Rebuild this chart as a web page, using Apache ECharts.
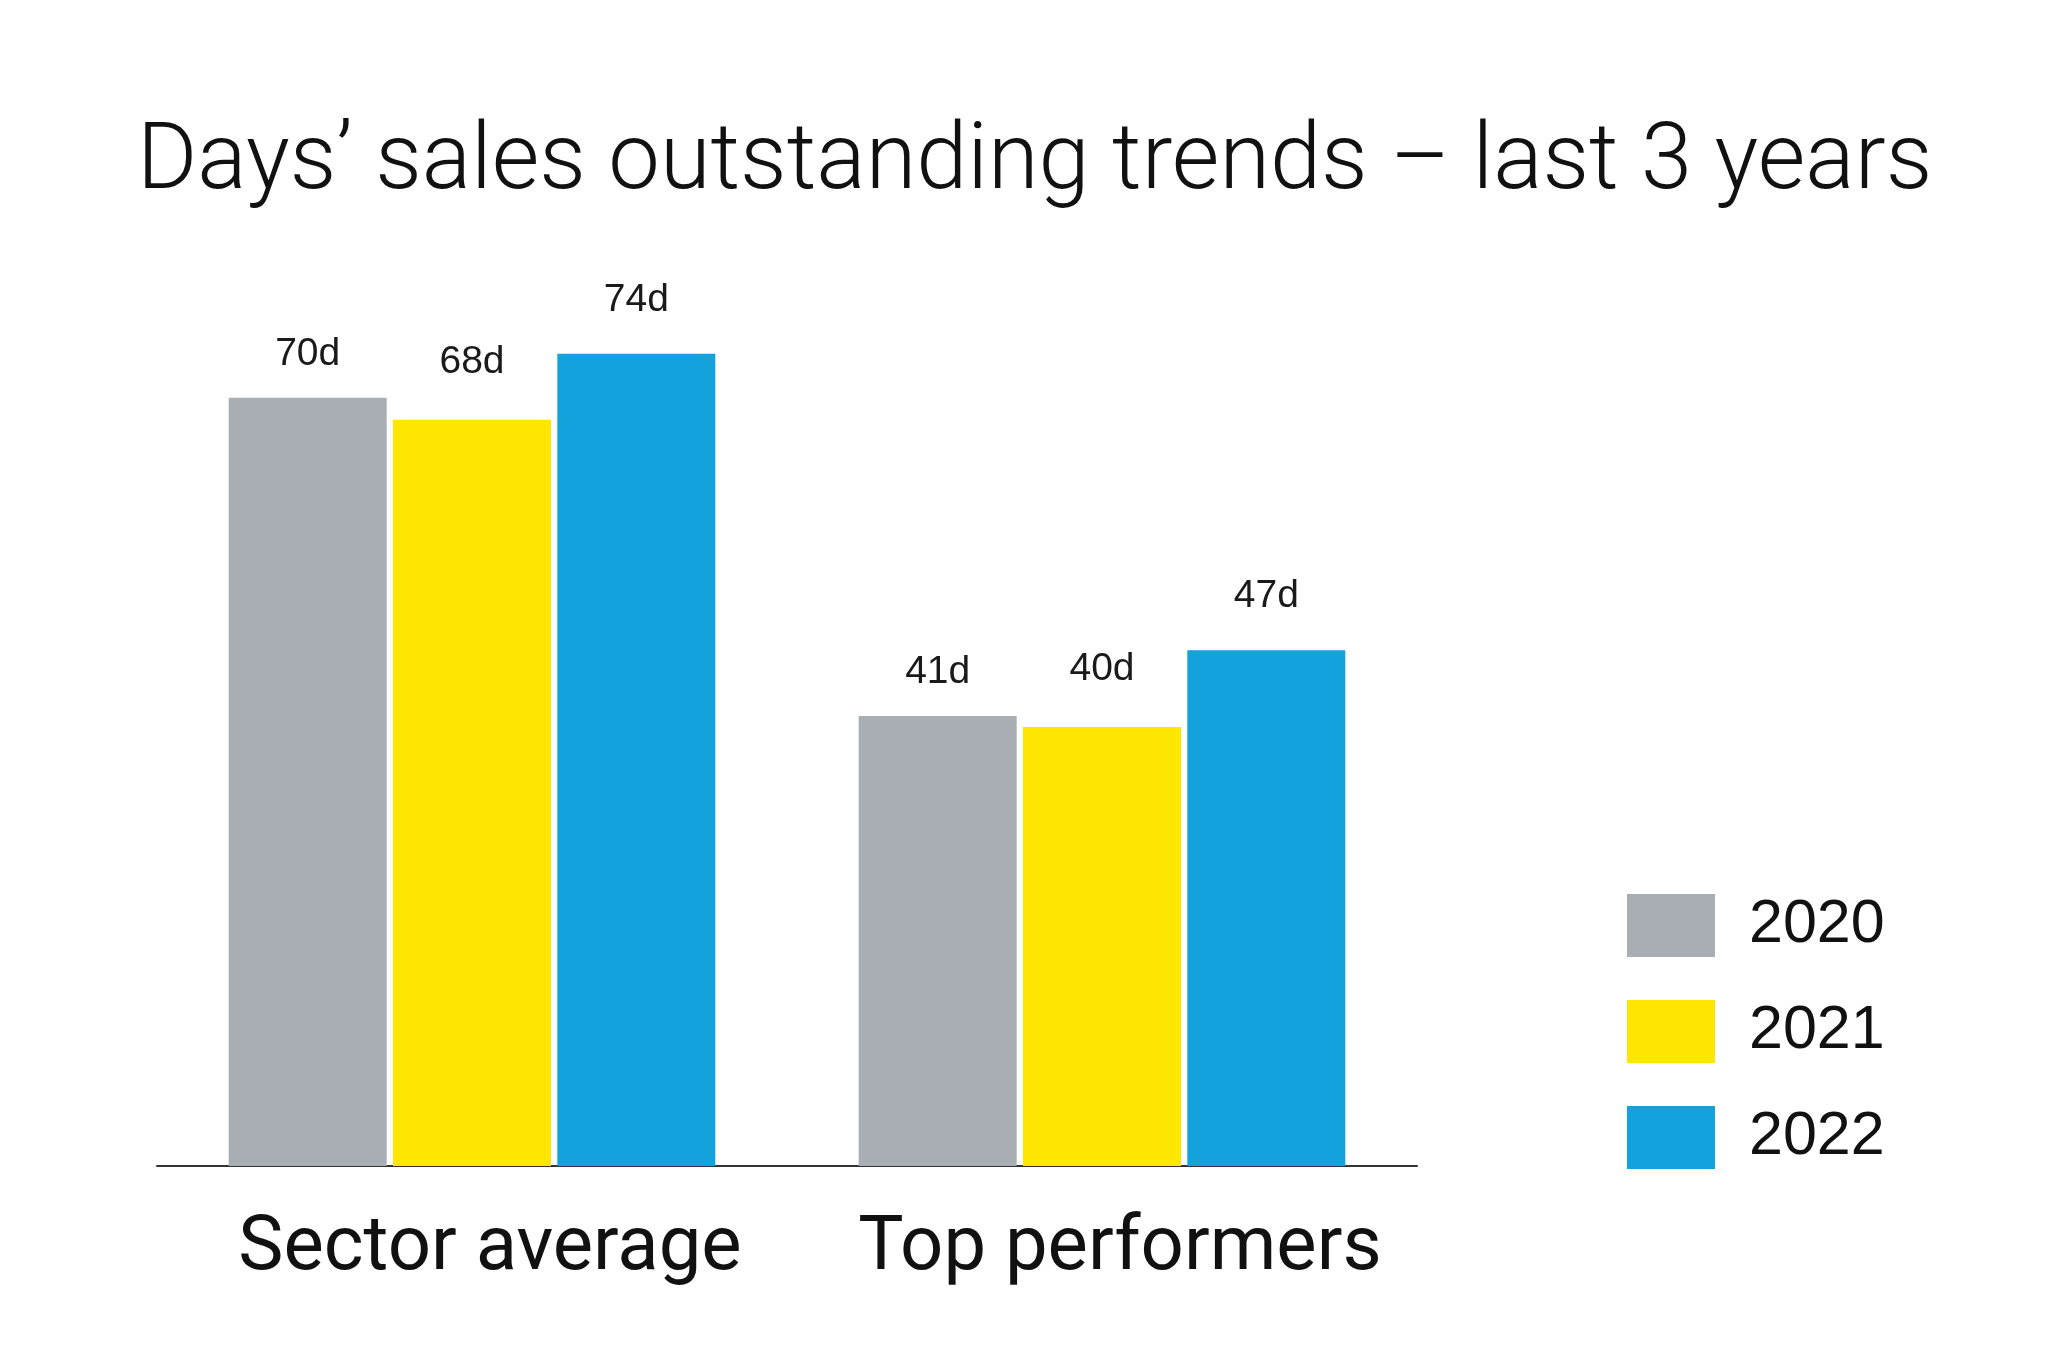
<!DOCTYPE html>
<html>
<head>
<meta charset="utf-8">
<script src="https://cdn.jsdelivr.net/npm/echarts@6/dist/echarts.min.js"></script>
<style>
html,body{margin:0;padding:0;background:#fff;}
#chart{width:2048px;height:1365px;}
</style>
</head>
<body>
<div id="chart"></div>
<script>
const titleText = "Days\u2019 sales outstanding trends \u2013 last 3 years";
const categories = ["Sector average", "Top performers"];
const seriesNames = ["2020", "2021", "2022"];
const values2020 = [70, 41];
const values2021 = [68, 40];
const values2022 = [74, 47];
const colors = ["#A8AEB4", "#FFE600", "#14A2DC"];
const labelDist = [24, 38, 34];

const chart = echarts.init(document.getElementById('chart'));
const dataSets = [values2020, values2021, values2022];
const series = seriesNames.map((name, i) => ({
  name: name,
  type: 'bar',
  data: dataSets[i],
  barWidth: 158,
  barGap: '4%',
  itemStyle: { color: colors[i] },
  label: {
    show: true,
    position: 'top',
    distance: labelDist[i],
    formatter: '{c}d',
    fontFamily: 'Liberation Sans',
    fontSize: 39,
    color: '#1a1a1a'
  }
}));

chart.setOption({
  backgroundColor: '#ffffff',
  animation: false,
  title: {
    text: titleText,
    left: 137,
    top: 119,
    padding: 0,
    textStyle: {
      fontFamily: 'Roboto',
      fontWeight: 300,
      fontSize: 92,
      color: '#111'
    }
  },
  legend: {
    orient: 'vertical',
    left: 1622,
    top: 889,
    icon: 'rect',
    itemWidth: 88,
    itemHeight: 63,
    itemGap: 43,
    data: seriesNames,
    textStyle: {
      fontFamily: 'Liberation Sans',
      fontSize: 61,
      color: '#111',
      padding: [0, 0, 0, 29]
    }
  },
  grid: { left: 157, right: 631, top: 288, bottom: 199, containLabel: false },
  xAxis: {
    type: 'category',
    data: categories,
    axisLine: { show: true, lineStyle: { color: '#333', width: 2 } },
    axisTick: { show: false },
    axisLabel: {
      interval: 0,
      margin: 46,
      padding: [0, 0, 0, 36],
      fontFamily: 'Roboto',
      fontSize: 76,
      color: '#111'
    }
  },
  yAxis: {
    type: 'value',
    min: 0,
    max: 80,
    show: false,
    splitLine: { show: false }
  },
  series: series
});
</script>
</body>
</html>
